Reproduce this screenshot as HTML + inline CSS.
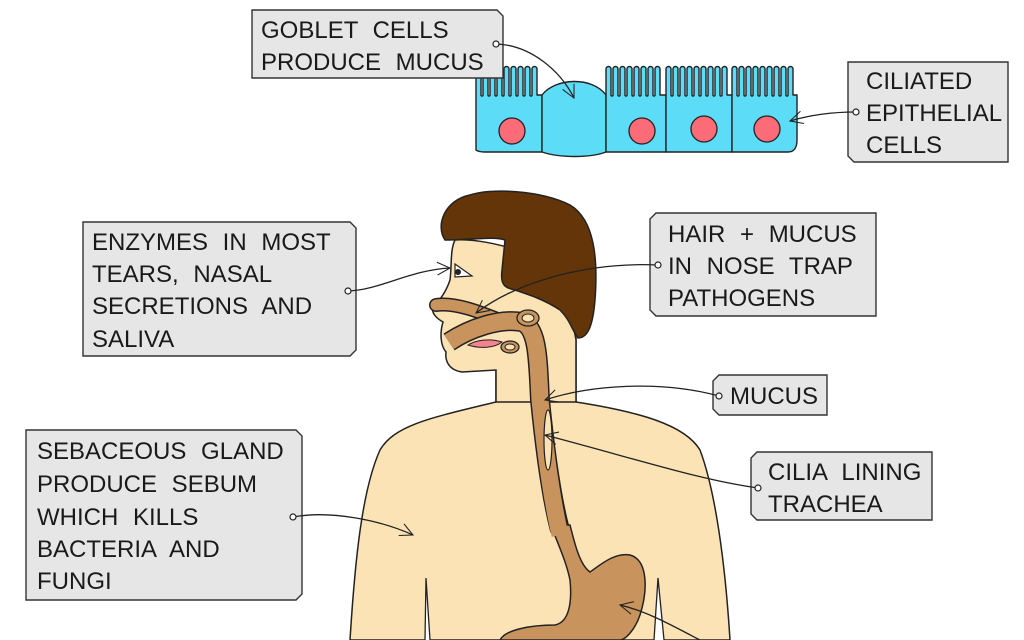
<!DOCTYPE html>
<html><head><meta charset="utf-8"><style>
html,body{margin:0;padding:0;background:#fff;}
svg{display:block;}
text{font-family:"Liberation Sans",sans-serif;font-size:24px;fill:#1a1a1a;}
</style></head><body>
<svg width="1024" height="640" viewBox="0 0 1024 640" xmlns="http://www.w3.org/2000/svg">
<defs>
<marker id="ar" viewBox="0 0 20 20" refX="18" refY="10" markerWidth="16" markerHeight="16" orient="auto" markerUnits="userSpaceOnUse">
<path d="M2 2 L18 10 L2 18" fill="none" stroke="#222" stroke-width="1.3"/>
</marker>
</defs>

<!-- torso -->
<path d="M350 640 C355 560 362 490 380 450 C395 425 430 418 496 402 L496 365 L576 338 L576 402 C640 412 685 425 700 450 C715 490 725 560 730 640 Z" fill="#fce3b5" stroke="#222" stroke-width="1.5"/>
<path d="M425 640 L426 578 L430 640" fill="#fff" stroke="#222" stroke-width="1.3"/>
<path d="M654 640 L658 578 L664 640" fill="#fff" stroke="#222" stroke-width="1.3"/>
<!-- face -->
<path d="M455 240 C480 238 540 250 565 280 L576 340 L576 402 L496 402 L496 370 L462 372 C448 370 445 360 446 352 C440 345 440 332 443 322 C436 318 430 312 434 306 C440 300 446 292 450 280 C452 265 450 250 455 240 Z" fill="#fce3b5" stroke="#222" stroke-width="1.5"/>
<!-- hair -->
<path d="M445 240 C435 225 445 200 470 195 C490 188 540 190 570 205 C595 220 598 260 595 300 C593 325 588 338 578 338 C572 330 570 320 560 310 C545 300 530 295 515 290 C505 288 500 285 502 270 L505 240 C495 236 470 240 445 240 Z" fill="#633509" stroke="#222" stroke-width="1.5"/>
<!-- eye -->
<path d="M455 264 L472 276 L455 277 Z" fill="#fff" stroke="#222" stroke-width="1.2"/>
<circle cx="458" cy="272" r="3" fill="#222"/>

<!-- nasal cavity -->
<path d="M436 305 C455 302 480 312 505 322" fill="none" stroke="#222" stroke-width="14" stroke-linecap="round"/>
<path d="M436 305 C455 302 480 312 505 322" fill="none" stroke="#c8935c" stroke-width="11" stroke-linecap="round"/>
<!-- throat tube -->
<path d="M449 342 C470 328 500 318 522 322 C538 328 538 360 540 400 C545 450 552 500 560 530" fill="none" stroke="#222" stroke-width="20" stroke-linejoin="round"/>
<!-- stomach -->
<path d="M551 525 L570 525 C575 545 580 565 590 572 C600 565 615 552 630 555 C648 560 648 590 640 615 C635 630 625 640 620 640 L500 640 C505 630 530 625 555 625 C570 622 572 600 570 580 C566 560 556 540 551 525 Z" fill="#c8935c" stroke="#222" stroke-width="1.5"/>
<path d="M449 342 C470 328 500 318 522 322 C538 328 538 360 540 400 C545 450 552 500 560 535" fill="none" stroke="#c8935c" stroke-width="17" stroke-linejoin="round"/>
<path d="M468 345 C480 349 495 348 502 342 C490 338 476 340 468 345 Z" fill="#f4838f" stroke="#222" stroke-width="1"/>
<ellipse cx="528" cy="318" rx="11" ry="8" fill="#c8935c" stroke="#222" stroke-width="1.3"/>
<ellipse cx="528" cy="318" rx="6" ry="4" fill="#fce3b5" stroke="#222" stroke-width="1"/>
<ellipse cx="510" cy="347" rx="9" ry="6" fill="#c8935c" stroke="#222" stroke-width="1.3"/>
<ellipse cx="510" cy="347" rx="5" ry="3" fill="#fce3b5" stroke="#222" stroke-width="1"/>
<ellipse cx="548" cy="440" rx="4" ry="30" fill="#fce3b5" stroke="#222" stroke-width="1.2"/>

<!-- cells -->
<g stroke="#222" stroke-width="1.4" fill="#5ddcf8" stroke-linejoin="round">
<path d="M476 150 L476 95 l0 -26 a2.5 2.5 0 0 1 5 0 l0 26 a1 1 0 0 0 2 0 l0 -26 a2.5 2.5 0 0 1 5 0 l0 26 a1 1 0 0 0 2 0 l0 -26 a2.5 2.5 0 0 1 5 0 l0 26 a1 1 0 0 0 2 0 l0 -26 a2.5 2.5 0 0 1 5 0 l0 26 a1 1 0 0 0 2 0 l0 -26 a2.5 2.5 0 0 1 5 0 l0 26 a1 1 0 0 0 2 0 l0 -26 a2.5 2.5 0 0 1 5 0 l0 26 a1 1 0 0 0 2 0 l0 -26 a2.5 2.5 0 0 1 5 0 l0 26 a1 1 0 0 0 2 0 l0 -26 a2.5 2.5 0 0 1 5 0 l0 26 a1 1 0 0 0 2 0 l0 -26 a2.5 2.5 0 0 1 5 0 l0 26 L542 95 L542 152 L485 152 C478 152 476 150 476 150 Z"/>
<path d="M542 95 C555 78 592 76 606 95 L606 152 C590 158 560 158 542 152 Z"/>
<path d="M606 152 L606 95 l0 -26 a2.5 2.5 0 0 1 5 0 l0 26 a1 1 0 0 0 2 0 l0 -26 a2.5 2.5 0 0 1 5 0 l0 26 a1 1 0 0 0 2 0 l0 -26 a2.5 2.5 0 0 1 5 0 l0 26 a1 1 0 0 0 2 0 l0 -26 a2.5 2.5 0 0 1 5 0 l0 26 a1 1 0 0 0 2 0 l0 -26 a2.5 2.5 0 0 1 5 0 l0 26 a1 1 0 0 0 2 0 l0 -26 a2.5 2.5 0 0 1 5 0 l0 26 a1 1 0 0 0 2 0 l0 -26 a2.5 2.5 0 0 1 5 0 l0 26 a1 1 0 0 0 2 0 l0 -26 a2.5 2.5 0 0 1 5 0 l0 26 L666 95 L666 152 Z"/>
<path d="M666 152 L666 95 l0 -26 a2.5 2.5 0 0 1 5 0 l0 26 a1 1 0 0 0 2 0 l0 -26 a2.5 2.5 0 0 1 5 0 l0 26 a1 1 0 0 0 2 0 l0 -26 a2.5 2.5 0 0 1 5 0 l0 26 a1 1 0 0 0 2 0 l0 -26 a2.5 2.5 0 0 1 5 0 l0 26 a1 1 0 0 0 2 0 l0 -26 a2.5 2.5 0 0 1 5 0 l0 26 a1 1 0 0 0 2 0 l0 -26 a2.5 2.5 0 0 1 5 0 l0 26 a1 1 0 0 0 2 0 l0 -26 a2.5 2.5 0 0 1 5 0 l0 26 a1 1 0 0 0 2 0 l0 -26 a2.5 2.5 0 0 1 5 0 l0 26 a1 1 0 0 0 2 0 l0 -26 a2.5 2.5 0 0 1 5 0 l0 26 L732 95 L732 152 Z"/>
<path d="M732 152 L732 95 l0 -26 a2.5 2.5 0 0 1 5 0 l0 26 a1 1 0 0 0 2 0 l0 -26 a2.5 2.5 0 0 1 5 0 l0 26 a1 1 0 0 0 2 0 l0 -26 a2.5 2.5 0 0 1 5 0 l0 26 a1 1 0 0 0 2 0 l0 -26 a2.5 2.5 0 0 1 5 0 l0 26 a1 1 0 0 0 2 0 l0 -26 a2.5 2.5 0 0 1 5 0 l0 26 a1 1 0 0 0 2 0 l0 -26 a2.5 2.5 0 0 1 5 0 l0 26 a1 1 0 0 0 2 0 l0 -26 a2.5 2.5 0 0 1 5 0 l0 26 a1 1 0 0 0 2 0 l0 -26 a2.5 2.5 0 0 1 5 0 l0 26 a1 1 0 0 0 2 0 l0 -26 a2.5 2.5 0 0 1 5 0 l0 26 L797 95 L797 140 C797 150 792 152 788 152 Z"/>
</g>
<g fill="#fb6b78" stroke="#222" stroke-width="1.3">
<circle cx="512" cy="131" r="13"/><circle cx="642" cy="131" r="13"/>
<circle cx="704" cy="129" r="13"/><circle cx="767" cy="129" r="13"/>
</g>

<!-- boxes -->
<g fill="#e6e6e6" stroke="#333" stroke-width="1.4">
<path d="M252 10 L497 10 L503 16 L503 78 L252 78 Z"/>
<path d="M848 62 L1008 62 L1008 162 L854 162 L848 156 Z"/>
<path d="M83 222 L350 222 L356 228 L356 350 L350 356 L83 356 Z"/>
<path d="M656 213 L876 213 L876 316 L656 316 L650 310 L650 219 Z"/>
<path d="M719 375 L827 375 L827 415 L719 415 L713 409 L713 381 Z"/>
<path d="M757 452 L932 452 L932 520 L757 520 L751 514 L751 458 Z"/>
<path d="M26 430 L296 430 L302 436 L302 594 L296 600 L26 600 Z"/>
</g>
<g word-spacing="8">
<text x="261" y="38">GOBLET  CELLS</text><text x="261" y="70">PRODUCE  MUCUS</text>
<text x="866" y="89">CILIATED</text><text x="866" y="121">EPITHELIAL</text><text x="866" y="153">CELLS</text>
<text x="92" y="250">ENZYMES  IN  MOST</text><text x="92" y="282">TEARS,  NASAL</text><text x="92" y="314">SECRETIONS  AND</text><text x="92" y="347">SALIVA</text>
<text x="668" y="242">HAIR  +  MUCUS</text><text x="668" y="274">IN  NOSE  TRAP</text><text x="668" y="306">PATHOGENS</text>
<text x="730" y="404">MUCUS</text>
<text x="768" y="480">CILIA  LINING</text><text x="768" y="512">TRACHEA</text>
<text x="37" y="459">SEBACEOUS  GLAND</text><text x="37" y="492">PRODUCE  SEBUM</text><text x="37" y="525">WHICH  KILLS</text><text x="37" y="557">BACTERIA  AND</text><text x="37" y="589">FUNGI</text>
</g>

<!-- connectors -->
<g fill="none" stroke="#222" stroke-width="1.3" marker-end="url(#ar)">
<path d="M496 44 C530 45 560 70 574 98"/>
<path d="M856 112 C830 112 810 115 790 121"/>
<path d="M348 291 C380 290 410 270 450 268"/>
<path d="M658 265 C590 262 520 280 476 313"/>
<path d="M719 396 C660 380 590 385 545 400"/>
<path d="M758 488 C700 480 640 460 545 435"/>
<path d="M293 517 C330 510 380 520 413 535"/>
<path d="M700 640 C680 630 650 612 620 605"/>
</g>
<g fill="#fff" stroke="#222" stroke-width="1.2">
<circle cx="496" cy="44" r="3"/><circle cx="856" cy="112" r="3"/><circle cx="348" cy="291" r="3"/>
<circle cx="658" cy="265" r="3"/><circle cx="719" cy="396" r="3"/><circle cx="758" cy="488" r="3"/><circle cx="293" cy="517" r="3"/>
</g>
</svg>
</body></html>
